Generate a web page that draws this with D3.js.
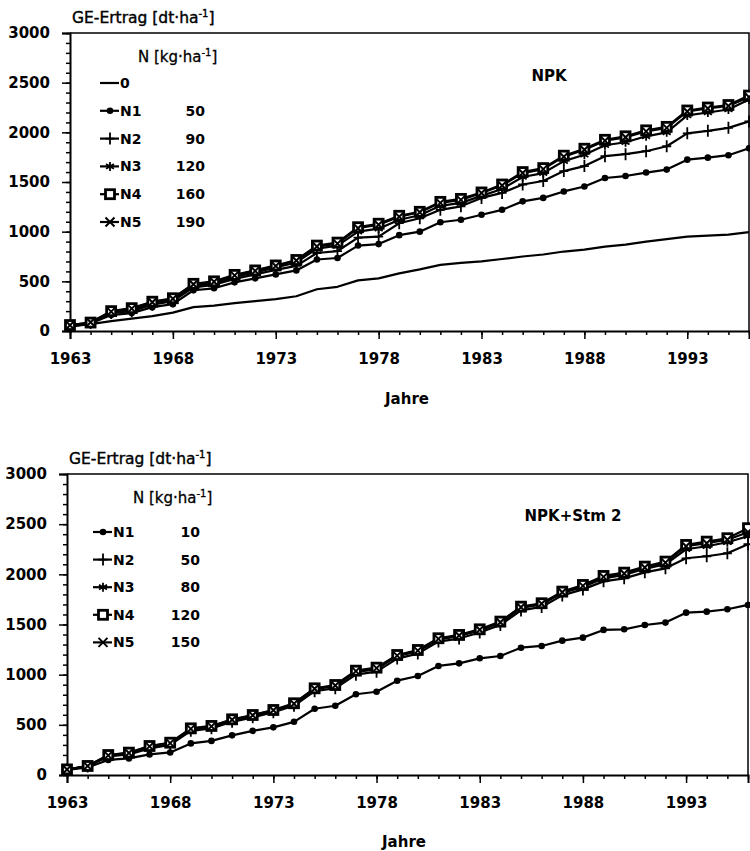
<!DOCTYPE html>
<html><head><meta charset="utf-8">
<script src="https://cdn.jsdelivr.net/npm/d3@7"></script>
<style>body{margin:0;background:#fff}svg{display:block}text{font-family:"DejaVu Sans",sans-serif;fill:#000}</style>
</head><body>
<script>
const years = [1963,1964,1965,1966,1967,1968,1969,1970,1971,1972,1973,1974,1975,1976,1977,1978,1979,1980,1981,1982,1983,1984,1985,1986,1987,1988,1989,1990,1991,1992,1993,1994,1995,1996];
const xTickLabels = [1963,1968,1973,1978,1983,1988,1993];
const yTickLabels = [0,500,1000,1500,2000,2500,3000];

// Panel 1: NPK
const npk_0  = [45,70,100,125,150,185,240,255,280,300,320,350,420,445,510,530,580,620,665,685,700,725,750,770,800,820,850,870,900,925,950,960,970,995];
const npk_N1 = [45,75,160,180,240,270,410,430,490,530,570,610,720,735,860,875,965,1000,1095,1120,1170,1220,1305,1340,1405,1455,1540,1560,1595,1625,1725,1745,1770,1840];
const npk_N2 = [50,80,180,200,265,300,440,465,525,570,615,655,785,805,940,950,1085,1135,1220,1255,1340,1390,1475,1510,1610,1660,1760,1780,1810,1860,1990,2015,2045,2110];
const npk_N3 = [55,82,190,215,280,315,455,478,545,590,640,690,830,860,1000,1030,1120,1165,1260,1290,1360,1430,1550,1590,1710,1775,1870,1900,1960,2000,2170,2200,2230,2330];
const npk_N4 = [60,85,200,230,295,330,475,500,565,610,660,715,860,890,1045,1080,1160,1200,1300,1330,1395,1475,1600,1640,1765,1835,1925,1960,2020,2055,2220,2250,2275,2370];
const npk_N5 = [58,88,195,225,290,325,470,495,560,605,655,710,850,880,1035,1070,1150,1195,1290,1320,1390,1465,1590,1630,1755,1825,1915,1950,2010,2045,2210,2240,2265,2355];
const npk_doses = ["", "50", "90", "120", "160", "190"];

// Panel 2: NPK+Stm 2
const stm_N1 = [50,75,150,165,205,225,315,340,395,440,475,530,660,690,805,830,940,987,1087,1113,1163,1186,1269,1286,1339,1369,1446,1452,1495,1519,1618,1628,1652,1695];
const stm_N2 = [52,85,185,205,265,300,440,465,530,575,625,690,835,865,1000,1030,1160,1210,1330,1360,1420,1495,1640,1675,1790,1850,1930,1960,2020,2060,2160,2180,2210,2300];
const stm_N3 = [54,88,193,215,280,315,455,480,545,590,640,705,855,885,1025,1055,1185,1235,1350,1385,1440,1515,1665,1700,1815,1875,1960,1995,2055,2100,2250,2280,2320,2380];
const stm_N4 = [56,90,199,223,289,322,465,489,555,598,648,715,864,897,1040,1070,1196,1246,1363,1396,1452,1529,1678,1712,1828,1894,1984,2017,2077,2127,2293,2326,2360,2460];
const stm_N5 = [55,89,196,220,285,318,460,485,550,595,645,710,860,892,1035,1065,1190,1240,1357,1390,1447,1522,1672,1706,1822,1885,1975,2008,2068,2117,2280,2310,2345,2420];
const stm_doses = ["10", "50", "80", "120", "150"];

const svg = d3.select("body").append("svg").attr("width",750).attr("height",851);

function drawMarker(g, type, x, y){
  if(type==="dot"){
    g.append("circle").attr("cx",x).attr("cy",y).attr("r",3.3).attr("fill","#000");
  } else if(type==="plus"){
    g.append("path").attr("d",`M${x-4.5},${y}H${x+4.5}M${x},${y-6}V${y+6}`).attr("stroke","#000").attr("stroke-width",1.8).attr("fill","none");
  } else if(type==="star"){
    g.append("path").attr("d",`M${x},${y-4.5}V${y+4.5}M${x-4},${y-2.3}L${x+4},${y+2.3}M${x-4},${y+2.3}L${x+4},${y-2.3}`).attr("stroke","#000").attr("stroke-width",1.8).attr("fill","none");
  } else if(type==="square"){
    g.append("rect").attr("x",x-4.5).attr("y",y-4.5).attr("width",9).attr("height",9).attr("fill","#fff").attr("stroke","#000").attr("stroke-width",2.8);
  } else if(type==="cross"){
    g.append("path").attr("d",`M${x-4.5},${y-4.5}L${x+4.5},${y+4.5}M${x-4.5},${y+4.5}L${x+4.5},${y-4.5}`).attr("stroke","#000").attr("stroke-width",2).attr("fill","none");
  }
}

function panel(cfg){
  const x = d3.scaleLinear().domain([1963,1996]).range([cfg.left,cfg.right]);
  const y = d3.scaleLinear().domain([0,3000]).range([cfg.bottom,cfg.top]);
  const g = svg.append("g");

  // frame top & right
  g.append("path").attr("d",`M${cfg.left},${cfg.top}H${cfg.right}V${cfg.bottom}`).attr("stroke","#000").attr("stroke-width",1.5).attr("fill","none");

  // y axis
  const yMinor = g.append("g").attr("transform",`translate(${cfg.left},0)`)
    .call(d3.axisLeft(y).tickValues(d3.range(0,3001,100)).tickSize(4).tickFormat(""));
  const yAx = g.append("g").attr("transform",`translate(${cfg.left},0)`)
    .call(d3.axisLeft(y).tickValues(yTickLabels).tickSize(8).tickPadding(12).tickFormat(d3.format("d")));
  // x axis
  const xMinor = g.append("g").attr("transform",`translate(0,${cfg.bottom})`)
    .call(d3.axisBottom(x).tickValues(years).tickSize(4).tickFormat(""));
  const xAx = g.append("g").attr("transform",`translate(0,${cfg.bottom})`)
    .call(d3.axisBottom(x).tickValues(xTickLabels).tickSize(8).tickPadding(14).tickFormat(d3.format("d")));
  [yMinor,yAx,xMinor,xAx].forEach(a=>{
    a.select(".domain").attr("stroke-width",2);
    a.selectAll(".tick line").attr("stroke-width",1.5);
  });
  [yAx,xAx].forEach(a=>a.selectAll("text").style("font-family","'DejaVu Sans',sans-serif").style("font-size","15px").style("font-weight","bold").attr("fill","#000"));
  xMinor.select(".domain").remove(); yMinor.select(".domain").remove();

  // titles
  const t = g.append("text").attr("x",cfg.left+2).attr("y",cfg.top-10).style("font-size","15.5px").attr("stroke","#000").attr("stroke-width",0.4);
  t.append("tspan").text("GE-Ertrag [dt·ha");
  t.append("tspan").attr("dy",-6).style("font-size","10px").text("-1");
  t.append("tspan").attr("dy",6).text("]");

  const lh = g.append("text").attr("x",cfg.legHeadX).attr("y",cfg.legHeadY).style("font-size","15px").attr("stroke","#000").attr("stroke-width",0.3);
  lh.append("tspan").text("N [kg·ha");
  lh.append("tspan").attr("dy",-6).style("font-size","10px").text("-1");
  lh.append("tspan").attr("dy",6).text("]");

  g.append("text").attr("x",cfg.labelX).attr("y",cfg.labelY).attr("text-anchor","middle")
    .style("font-size","15px").style("font-weight","bold").text(cfg.label);

  g.append("text").attr("x",cfg.jahreX).attr("y",cfg.jahreY).attr("text-anchor","middle")
    .style("font-size","15px").style("font-weight","bold").text("Jahre");

  // series
  const line = d3.line().x((d,i)=>x(years[i])).y(d=>y(d));
  cfg.series.forEach(s=>{
    g.append("path").datum(s.values).attr("d",line).attr("fill","none").attr("stroke","#000").attr("stroke-width",2.2).attr("stroke-linejoin","round");
  });
  cfg.series.forEach(s=>{
    if(s.marker){ s.values.forEach((v,i)=>drawMarker(g,s.marker,x(years[i]),y(v))); }
  });

  // legend
  cfg.series.forEach((s,i)=>{
    const ly = cfg.legY0 + i*cfg.legDy;
    g.append("line").attr("x1",cfg.legX).attr("x2",cfg.legX+19).attr("y1",ly).attr("y2",ly).attr("stroke","#000").attr("stroke-width",2.2);
    if(s.marker) drawMarker(g,s.marker,cfg.legX+10,ly);
    g.append("text").attr("x",cfg.legX+20).attr("y",ly+5).style("font-size","14px").style("font-weight","bold").text(s.name);
    if(s.dose) g.append("text").attr("x",cfg.legValX).attr("y",ly+5).attr("text-anchor","end").style("font-size","14px").style("font-weight","bold").text(s.dose);
  });
}

panel({
  left:70, right:749, top:33, bottom:331,
  label:"NPK", labelX:549, labelY:81,
  jahreX:407, jahreY:404,
  legHeadX:138, legHeadY:62,
  legX:100, legValX:205, legY0:83, legDy:27.8,
  series:[
    {name:"0", values:npk_0, marker:null, dose:npk_doses[0]},
    {name:"N1", values:npk_N1, marker:"dot", dose:npk_doses[1]},
    {name:"N2", values:npk_N2, marker:"plus", dose:npk_doses[2]},
    {name:"N3", values:npk_N3, marker:"star", dose:npk_doses[3]},
    {name:"N4", values:npk_N4, marker:"square", dose:npk_doses[4]},
    {name:"N5", values:npk_N5, marker:"cross", dose:npk_doses[5]}
  ]
});

panel({
  left:67, right:748, top:474, bottom:775,
  label:"NPK+Stm 2", labelX:573, labelY:521,
  jahreX:404, jahreY:847,
  legHeadX:133, legHeadY:503,
  legX:93, legValX:200, legY0:532, legDy:27.6,
  series:[
    {name:"N1", values:stm_N1, marker:"dot", dose:stm_doses[0]},
    {name:"N2", values:stm_N2, marker:"plus", dose:stm_doses[1]},
    {name:"N3", values:stm_N3, marker:"star", dose:stm_doses[2]},
    {name:"N4", values:stm_N4, marker:"square", dose:stm_doses[3]},
    {name:"N5", values:stm_N5, marker:"cross", dose:stm_doses[4]}
  ]
});
</script>
</body></html>
